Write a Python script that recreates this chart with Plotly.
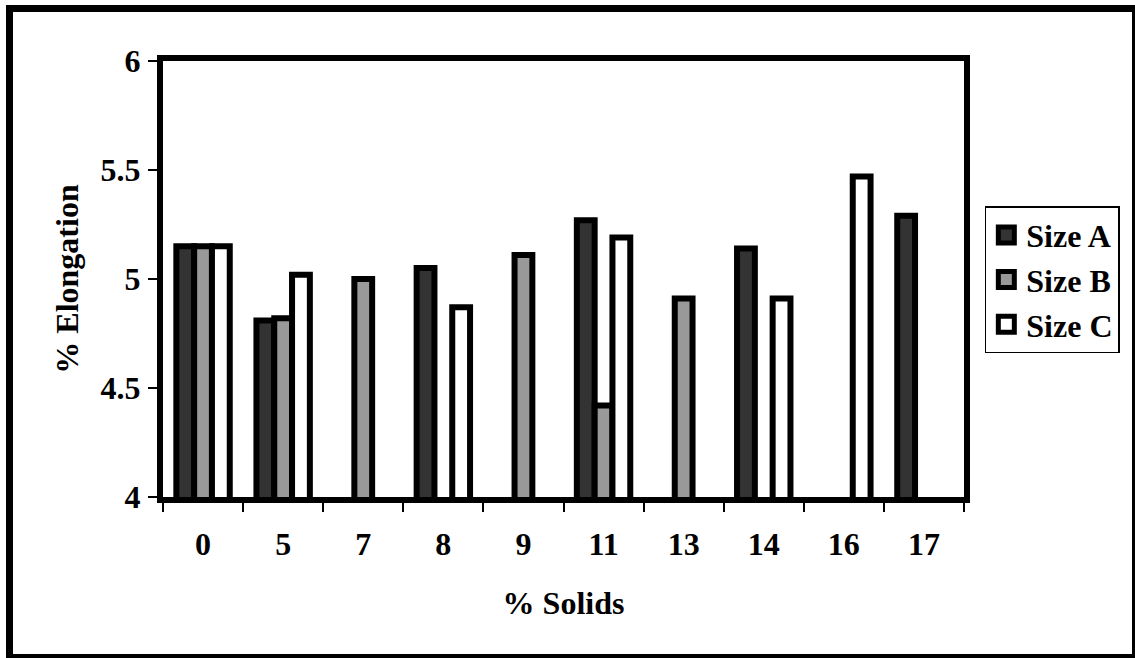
import plotly.graph_objects as go

categories = ["0", "5", "7", "8", "9", "11", "13", "14", "16", "17"]
size_a = [5.15, 4.81, None, 5.05, None, 5.27, None, 5.14, None, 5.29]
size_b = [5.15, 4.82, 5.00, None, 5.11, 4.42, 4.91, None, None, None]
size_c = [5.15, 5.02, None, 4.87, None, 5.19, None, 4.91, 5.47, None]
series_names = ["Size A", "Size B", "Size C"]
y_ticks = [4, 4.5, 5, 5.5, 6]

FONT = "Liberation Serif"
fills = ["#333333", "#999999", "#ffffff"]

fig = go.Figure()
for name, vals, col in zip(series_names, [size_a, size_b, size_c], fills):
    fig.add_trace(go.Bar(
        x=categories, y=vals, name=name, showlegend=False,
        marker=dict(color=col, line=dict(color="black", width=6)),
    ))
# legend entries with larger square swatches
for name, col in zip(series_names, fills):
    fig.add_trace(go.Scatter(
        x=[None], y=[None], mode="markers", name=name, showlegend=True,
        marker=dict(symbol="square", size=16, color=col,
                    line=dict(color="black", width=5)),
    ))

fig.update_layout(
    width=1135, height=658,
    margin=dict(l=163, r=171, t=61, b=161),
    paper_bgcolor="white", plot_bgcolor="white",
    barmode="group", bargap=0.333, bargroupgap=0,
    font=dict(family=FONT, size=32, color="black"),
    legend=dict(
        x=1.026, y=0.667, xanchor="left", yanchor="top",
        bordercolor="black", borderwidth=1.5, bgcolor="white",
        font=dict(family=FONT, size=32, color="black", weight="bold"),
        itemsizing="trace", tracegroupgap=0, itemwidth=30,
    ),
    xaxis=dict(
        type="category", categoryorder="array", categoryarray=categories,
        showline=True, linecolor="black", linewidth=6,
        mirror=True, ticks="outside", tickson="boundaries", ticklen=9,
        tickwidth=2, tickcolor="black", showgrid=False,
        tickfont=dict(family=FONT, size=32, weight="bold"),
        ticklabelstandoff=14,
        title=dict(text="% Solids", font=dict(family=FONT, size=32, weight="bold"), standoff=32),
    ),
    yaxis=dict(
        range=[4, 6], tickvals=y_ticks, ticktext=[f"{v:g}" for v in y_ticks],
        showline=True, linecolor="black", linewidth=6, mirror=True,
        ticks="outside", ticklen=9, tickwidth=2, tickcolor="black",
        showgrid=False, zeroline=False,
        tickfont=dict(family=FONT, size=32, weight="bold"),
        ticklabelstandoff=1,
        title=dict(text="% Elongation", font=dict(family=FONT, size=32, weight="bold"), standoff=14),
    ),
)

# outer chart border (right and bottom sides partly cut by the picture edge)
fig.add_shape(
    type="rect", xref="paper", yref="paper",
    x0=(9.5 - 163) / 801, x1=(1135.5 - 163) / 801,
    y0=(497 - 657.5) / 436, y1=(497 - 8.5) / 436,
    line=dict(color="black", width=7), fillcolor="rgba(0,0,0,0)",
    layer="above",
)

fig.write_html("out.html")
